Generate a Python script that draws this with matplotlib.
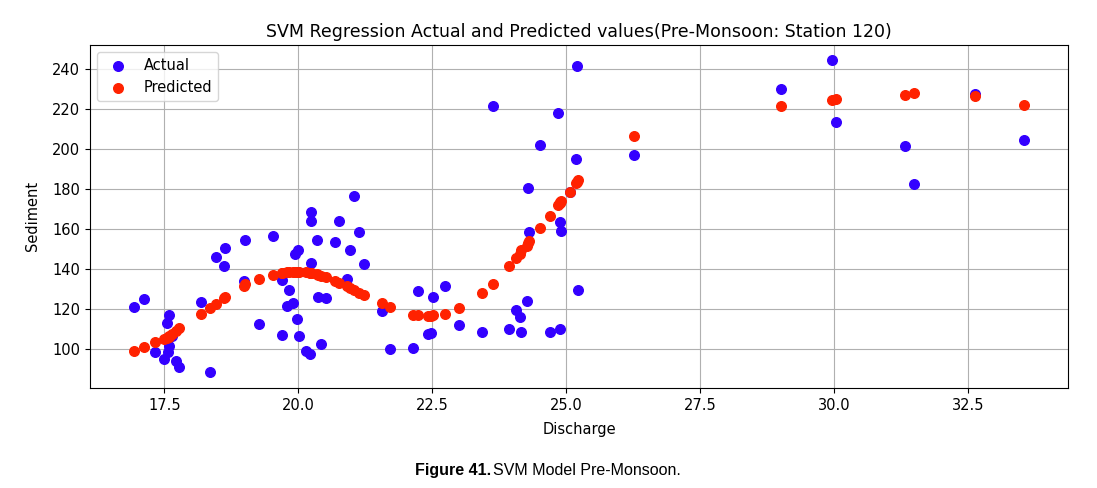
import matplotlib.pyplot as plt

# Discharge values (x), observed sediment and SVM predictions
discharge = [16.94, 17.11, 17.33, 17.50, 17.55, 17.56, 17.58, 17.59, 17.65, 17.72,
             17.78, 18.18, 18.35, 18.46, 18.61, 18.63, 18.98, 19.01, 19.27, 19.52,
             19.69, 19.70, 19.78, 19.83, 19.91, 19.94, 19.98, 19.99, 20.02, 20.14,
             20.22, 20.23, 20.23, 20.24, 20.34, 20.36, 20.43, 20.51, 20.69, 20.76,
             20.90, 20.96, 21.04, 21.13, 21.23, 21.56, 21.71, 22.14, 22.23, 22.42,
             22.47, 22.51, 22.73, 23.00, 23.42, 23.64, 23.93, 24.07, 24.13, 24.16,
             24.26, 24.28, 24.30, 24.51, 24.69, 24.84, 24.88, 24.89, 24.90, 25.07,
             25.18, 25.20, 25.23, 26.27, 29.01, 29.97, 30.04, 31.33, 31.50, 32.64,
             33.54]
actual = [121.0, 125.2, 98.3, 95.0, 112.8, 98.3, 101.7, 117.2, 106.7, 94.2,
          90.8, 123.3, 88.3, 146.2, 141.7, 150.7, 134.0, 154.6, 112.6, 156.3,
          107.2, 134.4, 121.7, 129.6, 123.0, 147.7, 115.2, 149.6, 106.7, 99.0,
          97.3, 143.0, 164.2, 168.3, 154.5, 126.2, 102.3, 125.6, 153.5, 164.2,
          135.0, 149.7, 176.3, 158.4, 142.3, 119.2, 100.2, 100.3, 128.8, 107.3,
          108.0, 126.2, 131.7, 112.2, 108.3, 221.7, 110.0, 119.7, 116.2, 108.7,
          123.8, 180.3, 158.7, 202.0, 108.7, 218.0, 110.0, 163.7, 159.0, 178.6,
          195.0, 241.3, 129.7, 197.0, 230.0, 244.3, 213.7, 201.7, 182.5, 227.3,
          204.5]
predicted = [99.2, 100.8, 103.3, 105.0, 105.6, 105.8, 106.2, 106.5, 107.6, 109.0,
             110.3, 117.5, 120.3, 122.5, 125.3, 125.8, 131.5, 132.3, 135.0, 137.2,
             138.0, 138.1, 138.3, 138.4, 138.5, 138.5, 138.6, 138.6, 138.6, 138.4,
             138.2, 138.1, 138.0, 138.0, 137.3, 137.1, 136.6, 136.0, 134.0, 133.0,
             131.3, 130.3, 129.3, 128.2, 127.0, 122.8, 120.8, 117.2, 116.8, 116.3,
             116.5, 116.9, 117.3, 120.3, 127.8, 132.6, 141.7, 145.6, 147.6, 149.3,
             151.5, 152.8, 153.8, 160.4, 166.7, 171.9, 173.2, 173.6, 174.0, 178.3,
             182.8, 183.6, 184.3, 206.3, 221.7, 224.7, 224.8, 227.2, 227.8, 226.7,
             222.2]

fig = plt.figure(figsize=(10.97, 4.88), dpi=100)
ax = fig.add_axes([0.082, 0.205, 0.8916, 0.703])

ax.scatter(discharge, actual, color='#3300ff', s=48, label='Actual')
ax.scatter(discharge, predicted, color='#ff2200', s=48, label='Predicted')

ax.set_title('SVM Regression Actual and Predicted values(Pre-Monsoon: Station 120)', fontsize=12.5)
ax.set_xlabel('Discharge', fontsize=10.5, labelpad=7)
ax.set_ylabel('Sediment', fontsize=10.5, labelpad=9)
ax.tick_params(labelsize=10.5)
ax.grid(True)
ax.set_axisbelow(True)
ax.legend(loc='upper left', fontsize=10.5)

# caption below the chart
fig.text(0.4475, 0.026, 'Figure 41.', ha='right', fontsize=11.5, fontweight='bold',
         family='Liberation Sans')
fig.text(0.4495, 0.026, 'SVM Model Pre-Monsoon.', ha='left', fontsize=11.5,
         family='Liberation Sans')

fig.savefig('out.png', dpi=100)
